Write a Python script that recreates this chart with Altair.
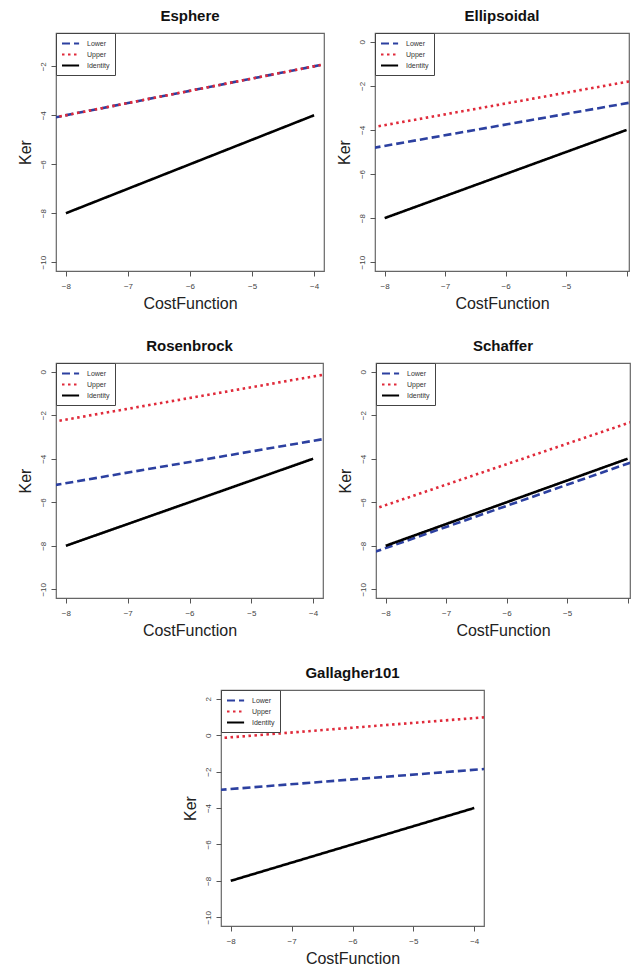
import altair as alt
import pandas as pd

# ---------------- data ----------------
panels = ["Esphere", "Ellipsoidal", "Rosenbrock", "Schaffer", "Gallagher101"]
series_names = ["Lower", "Upper", "Identity"]

band_x = [-8.2, -3.8]          # fitted reference lines span the whole panel
lower_y = {
    "Esphere": [-4.1, -1.9],
    "Ellipsoidal": [-4.82, -2.69],
    "Rosenbrock": [-5.22, -3.08],
    "Schaffer": [-8.30, -4.03],
    "Gallagher101": [-3.01, -1.85],
}
upper_y = {
    "Esphere": [-4.1, -1.9],
    "Ellipsoidal": [-3.88, -1.72],
    "Rosenbrock": [-2.30, -0.12],
    "Schaffer": [-6.32, -2.18],
    "Gallagher101": [-0.17, 0.99],
}
identity_x = [-8, -4]
identity_y = [-8, -4]

x_ticks = [-8, -7, -6, -5, -4]
y_ticks = {
    "Esphere": [-10, -8, -6, -4, -2],
    "Ellipsoidal": [-10, -8, -6, -4, -2, 0],
    "Rosenbrock": [-10, -8, -6, -4, -2, 0],
    "Schaffer": [-10, -8, -6, -4, -2, 0],
    "Gallagher101": [-10, -8, -6, -4, -2, 0, 2],
}
y_domain = {
    "Esphere": [-10.36, -0.64],
    "Ellipsoidal": [-10.4, 0.4],
    "Rosenbrock": [-10.4, 0.4],
    "Schaffer": [-10.4, 0.4],
    "Gallagher101": [-10.48, 2.48],
}

FONT = "Liberation Sans"
BLUE = "#2c40a0"
RED = "#e02a3a"


def panel_df(name):
    rows = []
    for xv, yv in zip(band_x, lower_y[name]):
        rows.append({"x": xv, "y": yv, "series": "Lower", "o": 0})
    for xv, yv in zip(band_x, upper_y[name]):
        rows.append({"x": xv, "y": yv, "series": "Upper", "o": 1})
    for xv, yv in zip(identity_x, identity_y):
        rows.append({"x": xv, "y": yv, "series": "Identity", "o": 2})
    return pd.DataFrame(rows)


legend = alt.Legend(
    title=None, orient="top-left", offset=0, padding=5,
    strokeColor="#444", fillColor="white", cornerRadius=0,
    symbolType="M-1,0H2.8", symbolSize=81, symbolStrokeWidth=2,
    labelFontSize=7, labelFont=FONT, labelColor="#333",
    rowPadding=1, labelOffset=15,
)


def make_panel(name, width, height, xdom, right=False):
    df = panel_df(name)
    label_expr = "datum.value == -4 ? '' : datum.label" if right else "datum.label"
    return (
        alt.Chart(df, title=alt.Title(name, fontSize=15, font=FONT, fontWeight="bold",
                                      color="#111", offset=-6, baseline="bottom"))
        .mark_line(clip=True, strokeWidth=2.6)
        .encode(
            x=alt.X("x:Q", scale=alt.Scale(domain=xdom, nice=False, zero=False),
                    axis=alt.Axis(values=x_ticks, title="CostFunction", labelExpr=label_expr)),
            y=alt.Y("y:Q", scale=alt.Scale(domain=y_domain[name], nice=False, zero=False),
                    axis=alt.Axis(values=y_ticks[name], title="Ker", labelAngle=270,
                                  labelAlign="center", labelBaseline="bottom")),
            color=alt.Color("series:N", scale=alt.Scale(domain=series_names, range=[BLUE, RED, "black"]),
                            legend=legend),
            strokeDash=alt.StrokeDash("series:N",
                                      scale=alt.Scale(domain=series_names, range=[[8, 4], [2.5, 3.5], [1, 0]]),
                                      legend=legend),
            order="o:Q",
            detail="series:N",
        )
        .properties(width=width, height=height)
    )


p1 = make_panel("Esphere", 268, 238, [-8.16, -3.84])
p2 = make_panel("Ellipsoidal", 254, 238, [-8.16, -3.96], right=True)
p3 = make_panel("Rosenbrock", 267, 235, [-8.16, -3.84])
p4 = make_panel("Schaffer", 254, 235, [-8.16, -3.96], right=True)
p5 = make_panel("Gallagher101", 263, 236, [-8.16, -3.84])

spacer = (
    alt.Chart(pd.DataFrame({"x": [0]}))
    .mark_point(opacity=0)
    .encode(x=alt.X("x:Q", axis=None), y=alt.Y("x:Q", axis=None))
    .properties(width=125, height=1, view=alt.ViewConfig(stroke=None))
)


def indep(c):
    return c.resolve_legend(color="independent", strokeDash="independent")


chart = (
    indep(alt.vconcat(
        indep(alt.hconcat(p1, p2, spacing=10)),
        indep(alt.hconcat(p3, p4, spacing=12)),
        indep(alt.hconcat(spacer, p5, spacing=0)),
        spacing=25,
    ))
    .properties(padding={"left": 16, "top": 7, "right": 0, "bottom": 0})
    .configure(font=FONT)
    .configure_view(stroke="#666", strokeWidth=1.2)
    .configure_axis(
        domain=False, grid=False, ticks=True, tickSize=5, tickColor="#555", tickWidth=1,
        labelFontSize=8, labelColor="#444", labelFont=FONT,
        titleFontSize=16, titleFont=FONT, titleColor="#222", titleFontWeight="normal",
    )
    .configure_axisX(titlePadding=5, labelPadding=6)
    .configure_axisY(titlePadding=6, labelPadding=4)
)

chart.save("out.html", embed_options={"renderer": "svg", "actions": False})
